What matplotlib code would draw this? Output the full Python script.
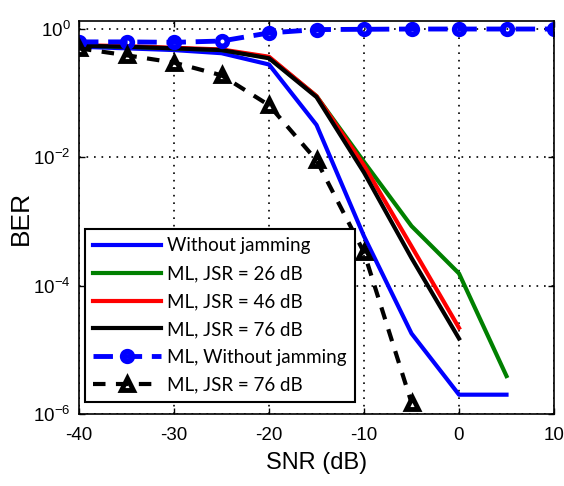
import numpy as np
from matplotlib import pyplot as plt
from matplotlib.ticker import LogLocator, NullLocator

# SNR grid (dB) and BER curves
snr = [-40, -35, -30, -25, -20, -15, -10, -5, 0, 5, 10]

ber_nojam = [0.53, 0.50, 0.47, 0.42, 0.28, 0.032, 5.9e-4, 1.8e-5, 2.0e-6, 2.0e-6]
ber_jsr26 = [0.55, 0.53, 0.50, 0.47, 0.36, 0.09, 8.5e-3, 8.5e-4, 1.55e-4, 3.9e-6]
ber_jsr46 = [0.56, 0.54, 0.51, 0.48, 0.37, 0.09, 7.5e-3, 4.1e-4, 2.2e-5]
ber_jsr76 = [0.55, 0.53, 0.50, 0.47, 0.35, 0.087, 5.8e-3, 2.7e-4, 1.5e-5]
ber_ml_nojam = [0.63, 0.63, 0.62, 0.65, 0.87, 0.98, 0.99, 1.0, 1.0, 1.0, 1.0]
ber_ml_jsr76 = [0.50, 0.39, 0.30, 0.19, 0.065, 0.009, 3.3e-4, 1.5e-6]

labels = ['Without jamming', 'ML, JSR = 26 dB', 'ML, JSR = 46 dB', 'ML, JSR = 76 dB',
          'ML, Without jamming', 'ML, JSR = 76 dB']

plt.rcParams['font.family'] = ['Liberation Sans', 'DejaVu Sans']
plt.rcParams['axes.unicode_minus'] = False

fig = plt.figure(figsize=(5.64, 4.86), dpi=100)
ax = fig.add_axes([79 / 564, 1 - 414 / 486, 475 / 564, 393 / 486])

lw = 3
ax.semilogy(snr[:len(ber_nojam)], ber_nojam, color='b', lw=lw, label=labels[0])
ax.semilogy(snr[:len(ber_jsr26)], ber_jsr26, color=(0, 0.5, 0), lw=lw, label=labels[1])
ax.semilogy(snr[:len(ber_jsr46)], ber_jsr46, color='r', lw=lw, label=labels[2])
ax.semilogy(snr[:len(ber_jsr76)], ber_jsr76, color='k', lw=lw, label=labels[3])
ax.semilogy(snr[:len(ber_ml_nojam)], ber_ml_nojam, color='b', lw=3.5, ls=(0, (4, 2)),
            marker='o', ms=7, mew=4, mfc='none', label=labels[4])
ax.semilogy(snr[:len(ber_ml_jsr76)], ber_ml_jsr76, color='k', lw=3, ls=(0, (3, 2.5)),
            marker='^', ms=9, mew=3.5, mfc='none', label=labels[5])

ax.set_xlim(-40, 10)
ax.set_ylim(1e-6, 10 ** 0.125)
ax.set_xticks([-40, -30, -20, -10, 0, 10])
ax.yaxis.set_major_locator(LogLocator(base=100))
ax.yaxis.set_minor_locator(NullLocator())
ax.tick_params(direction='in', length=4, labelsize=13.5, width=1,
               top=True, right=True)
ax.tick_params(axis='x', pad=9)
ax.tick_params(axis='y', pad=6)
ax.grid(True, ls=(0, (1, 3.5)), color='k', lw=1.2)
for s in ax.spines.values():
    s.set_linewidth(1.2)

ax.set_xlabel('SNR (dB)', fontsize=17, labelpad=6)
ax.set_ylabel('BER', fontsize=19, labelpad=0)

leg = ax.legend(loc='lower left', bbox_to_anchor=(0.0126, 0.03), borderaxespad=0,
                prop={'family': 'Lato', 'size': 13.5}, handlelength=3.6,
                handletextpad=0.35, labelspacing=0.58, borderpad=0.45,
                fancybox=False, framealpha=1, edgecolor='k', numpoints=1)
leg.get_frame().set_linewidth(1.5)

plt.savefig('out.png', dpi=100)
